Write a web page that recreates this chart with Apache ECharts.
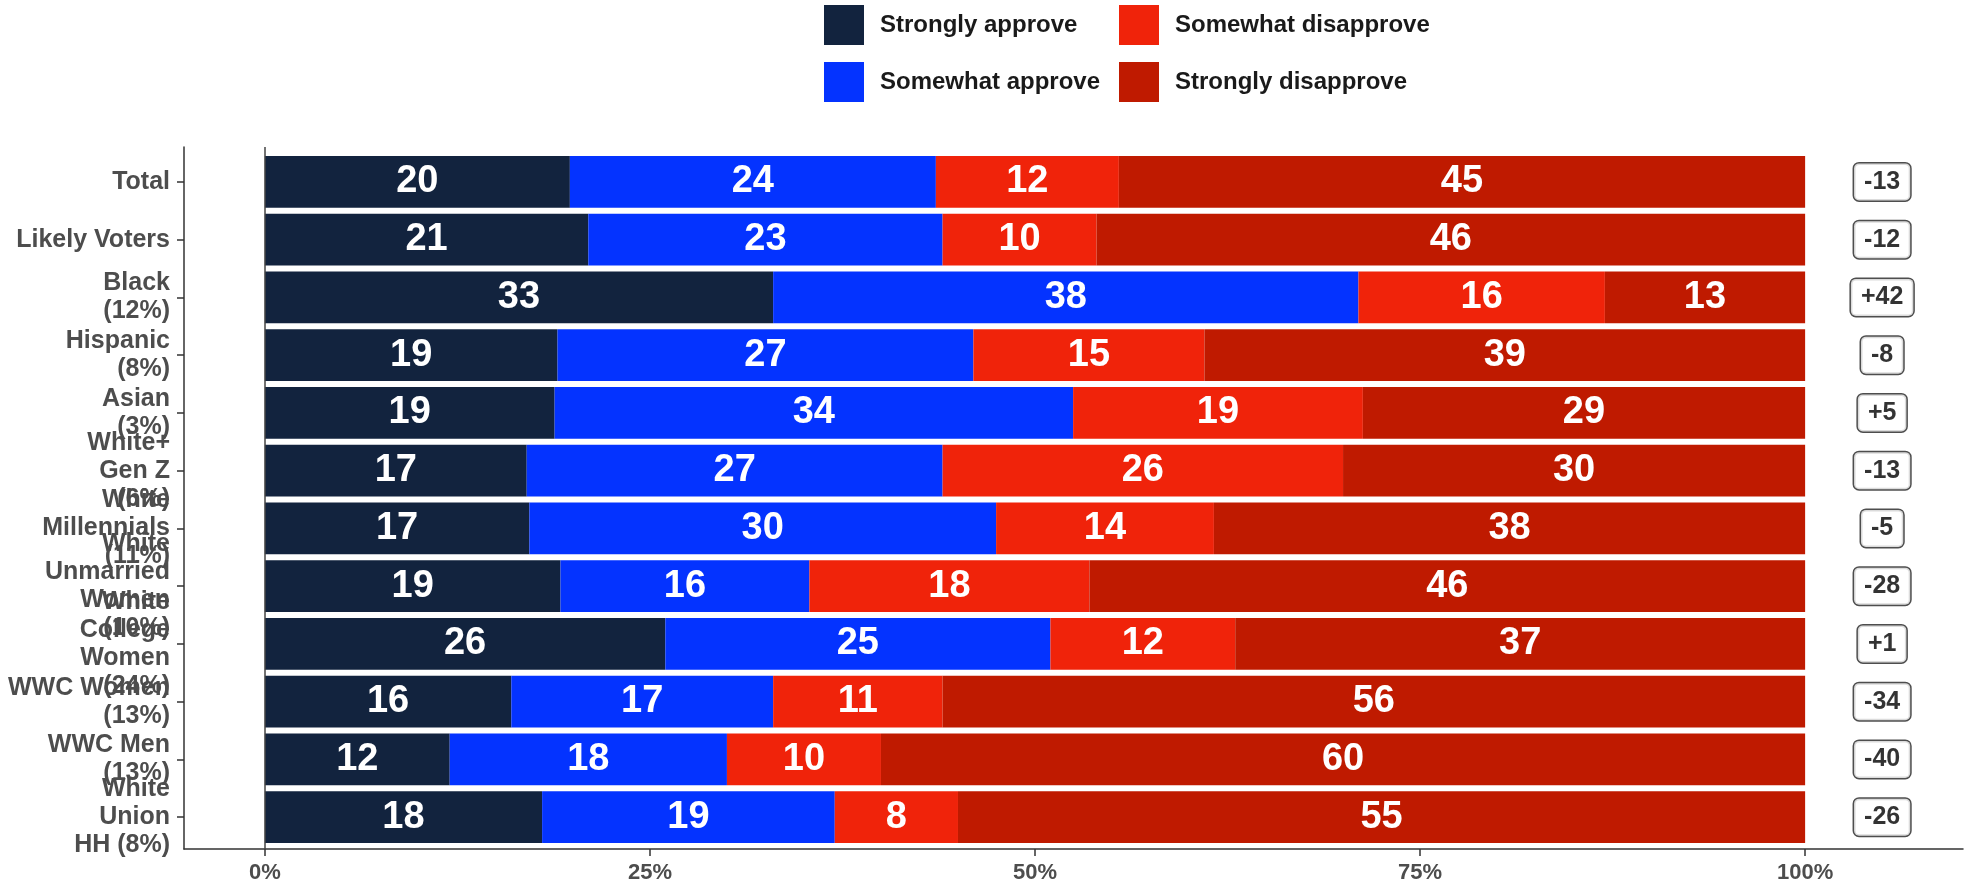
<!DOCTYPE html>
<html>
<head>
<meta charset="utf-8">
<script src="https://cdn.jsdelivr.net/npm/echarts@6/dist/echarts.min.js"></script>
<style>
  html, body { margin: 0; padding: 0; background: #fff; }
  #chart { width: 1972px; height: 889px; }
</style>
</head>
<body>
<div id="chart"></div>
<script>
// groups, top to bottom
const categories = [
  'Total',
  'Likely Voters',
  'Black\n(12%)',
  'Hispanic\n(8%)',
  'Asian\n(3%)',
  'White+\nGen Z\n(6%)',
  'White\nMillennials\n(11%)',
  'White\nUnmarried\nWomen\n(10%)',
  'White\nCollege\nWomen\n(24%)',
  'WWC Women\n(13%)',
  'WWC Men\n(13%)',
  'White\nUnion\nHH (8%)'
];
const strongApprove    = [20, 21, 33, 19, 19, 17, 17, 19, 26, 16, 12, 18];
const someApprove      = [24, 23, 38, 27, 34, 27, 30, 16, 25, 17, 18, 19];
const someDisapprove   = [12, 10, 16, 15, 19, 26, 14, 18, 12, 11, 10, 8];
const strongDisapprove = [45, 46, 13, 39, 29, 30, 38, 46, 37, 56, 60, 55];
const netScores        = [-13, -12, 42, -8, 5, -13, -5, -28, 1, -34, -40, -26];
const xTicks = [0, 25, 50, 75, 100];

const FONT = "'Liberation Sans', Arial, sans-serif";
const rowSum = categories.map((c, i) =>
  strongApprove[i] + someApprove[i] + someDisapprove[i] + strongDisapprove[i]);

function barSeries(name, values, color) {
  return {
    name: name,
    type: 'bar',
    stack: 'total',
    barWidth: '90%',
    xAxisIndex: 0,
    yAxisIndex: 0,
    itemStyle: { color: color },
    label: {
      show: true,
      position: 'inside',
      color: '#fff',
      fontFamily: FONT,
      fontWeight: 'bold',
      fontSize: 38,
      formatter: p => values[p.dataIndex]
    },
    // bars are filled to 100% (position = fill)
    data: values.map((v, i) => v / rowSum[i] * 100)
  };
}

const chart = echarts.init(document.getElementById('chart'));
const legendBase = {
  orient: 'vertical',
  top: 5,
  padding: 0,
  itemWidth: 40,
  itemHeight: 40,
  itemGap: 17,
  icon: 'rect',
  selectedMode: false,
  textStyle: {
    fontFamily: FONT,
    fontSize: 24,
    fontWeight: 'bold',
    color: '#1a1a1a',
    padding: [0, 0, 0, 11]
  }
};

chart.setOption({
  backgroundColor: '#fff',
  animation: false,
  legend: [
    Object.assign({}, legendBase, { left: 824, data: ['Strongly approve', 'Somewhat approve'] }),
    Object.assign({}, legendBase, { left: 1119, data: ['Somewhat disapprove', 'Strongly disapprove'] })
  ],
  grid: [
    { left: 184, right: 9, top: 153, bottom: 43 },
    { left: 184, right: 9, top: 147, bottom: 40 }
  ],
  xAxis: [
    { gridIndex: 0, type: 'value', min: -5.25, max: 110.25, show: false },
    {
      gridIndex: 1,
      type: 'value',
      min: -5.25,
      max: 110.25,
      splitLine: { show: false },
      axisLine: { show: true, onZero: false, lineStyle: { color: '#333', width: 1.5 } },
      axisTick: { show: true, length: 7, customValues: xTicks, lineStyle: { color: '#333', width: 1.5 } },
      axisLabel: {
        customValues: xTicks,
        margin: 13,
        color: '#4d4d4d',
        fontFamily: FONT,
        fontWeight: 'bold',
        fontSize: 22,
        formatter: v => v + '%'
      }
    }
  ],
  yAxis: [
    {
      gridIndex: 0,
      type: 'category',
      inverse: true,
      data: categories,
      axisLine: { show: false, onZero: false },
      axisTick: { show: true, length: 7, alignWithLabel: true, lineStyle: { color: '#333', width: 1.5 } },
      axisLabel: {
        interval: 0,
        margin: 14,
        color: '#4d4d4d',
        fontFamily: FONT,
        fontWeight: 'bold',
        fontSize: 25,
        lineHeight: 28
      }
    },
    {
      gridIndex: 1,
      type: 'value',
      min: 0,
      max: 1,
      axisLine: { show: true, onZero: false, lineStyle: { color: '#333', width: 1.5 } },
      axisTick: { show: false },
      axisLabel: { show: false },
      splitLine: { show: false }
    }
  ],
  series: [
    barSeries('Strongly approve', strongApprove, '#12233e'),
    barSeries('Somewhat approve', someApprove, '#0433ff'),
    barSeries('Somewhat disapprove', someDisapprove, '#f0230a'),
    barSeries('Strongly disapprove', strongDisapprove, '#bf1a00'),
    {
      // net approval boxes
      type: 'scatter',
      xAxisIndex: 0,
      yAxisIndex: 0,
      symbolSize: 1,
      itemStyle: { color: 'rgba(0,0,0,0)' },
      label: {
        show: true,
        position: 'inside',
        formatter: p => (netScores[p.dataIndex] > 0 ? '+' : '') + netScores[p.dataIndex],
        color: '#000',
        fontFamily: FONT,
        fontWeight: 'bold',
        fontSize: 25,
        backgroundColor: '#fff',
        borderColor: '#222',
        borderWidth: 1.5,
        borderRadius: 5,
        padding: [6, 10]
      },
      data: netScores.map((n, i) => [105, i])
    },
    {
      // zero reference line
      type: 'line',
      xAxisIndex: 1,
      yAxisIndex: 1,
      symbol: 'none',
      silent: true,
      data: [[0, 0.5]],
      markLine: {
        symbol: 'none',
        silent: true,
        label: { show: false },
        lineStyle: { color: '#444', width: 1.5, type: 'solid' },
        data: [{ xAxis: 0 }]
      }
    }
  ]
});
</script>
</body>
</html>
